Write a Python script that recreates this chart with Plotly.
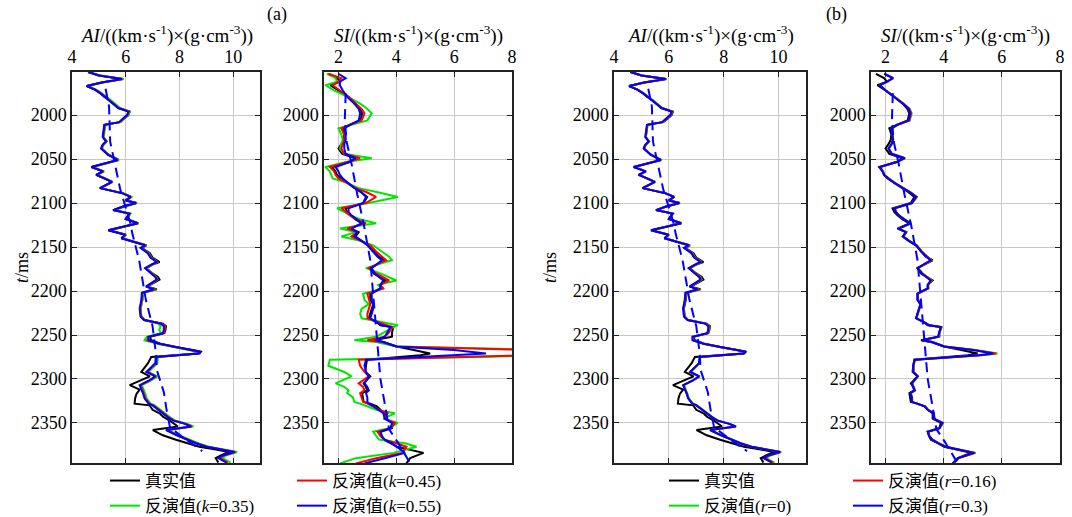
import plotly.graph_objects as go

# ---------------- data ----------------
t_ai = [1951,1955,1959,1963,1967,1971,1975,1979,1983,1988,
        1992,1996,2000,2004,2008,2011,2018,2025,2030,2034,
        2038,2045,2051,2055,2059,2064,2068,2072,2076,2083,
        2089,2093,2097,2100,2104,2108,2112,2118,2123,2127,
        2131,2136,2140,2146,2148,2151,2154,2157,2162,2167,
        2170,2174,2180,2184,2187,2191,2195,2198,2202,2210,
        2220,2229,2233,2237,2240,2244,2248,2252,2256,2260,
        2264,2267,2269,2271,2275,2282,2287,2292,2297,2302,
        2307,2312,2317,2322,2328,2330,2335,2339,2343,2347,
        2351,2354,2358,2364,2369,2373,2377,2380,2383,2387,
        2390,2395]

ai_true = [4.6,5.0,5.9,5.1,4.55,4.85,5.05,5.2,5.4,5.6,
           5.75,6.15,6.1,5.95,5.8,5.22,5.2,5.16,5.28,5.15,
           5.1,5.35,5.72,5.2,4.72,5.16,4.9,5.2,5.5,5.04,
           5.9,6.2,6.0,6.4,5.9,5.53,6.15,6.0,6.46,5.9,
           5.35,6.0,5.84,6.52,6.77,6.6,6.75,6.9,7.0,7.26,
           7.0,6.77,7.0,7.2,7.26,7.0,6.8,7.15,6.65,6.62,
           6.55,6.58,6.7,7.38,7.5,7.48,7.44,6.9,6.95,7.3,
           7.9,8.5,8.8,8.75,6.95,6.83,6.7,6.58,6.9,6.5,
           6.15,6.52,6.4,6.35,6.33,6.89,7.0,7.26,7.4,7.63,
           7.8,7.94,7.01,7.38,7.87,8.3,8.74,9.3,9.85,9.54,
           9.35,9.45]

ai_k035 = [4.65,5.05,5.92,5.15,4.6,4.9,5.1,5.25,5.44,5.64,
           5.78,6.15,6.1,5.95,5.8,5.25,5.22,5.18,5.3,5.17,
           5.12,5.37,5.75,5.25,4.77,5.2,4.95,5.25,5.52,5.08,
           5.93,6.22,6.05,6.42,5.95,5.58,6.18,6.05,6.48,5.95,
           5.4,6.02,5.88,6.55,6.75,6.6,6.74,6.86,6.96,7.18,
           7.0,6.76,7.0,7.14,7.18,7.0,6.8,7.1,6.65,6.62,
           6.56,6.58,6.72,7.2,7.3,7.25,7.3,6.78,6.7,7.2,
           7.85,8.4,8.65,8.62,7.2,7.18,7.03,6.85,7.18,6.93,
           6.6,6.68,6.73,6.78,6.93,7.08,7.28,7.48,7.63,7.83,
           8.3,8.52,7.58,7.98,8.38,8.7,9.1,9.7,10.15,9.72,
           9.6,9.9]

ai_k045 = [4.62,5.02,5.88,5.12,4.57,4.87,5.07,5.22,5.4,5.6,
           5.74,6.12,6.07,5.92,5.77,5.22,5.2,5.16,5.28,5.15,
           5.1,5.35,5.72,5.22,4.74,5.17,4.92,5.22,5.5,5.06,
           5.9,6.2,6.02,6.4,5.92,5.55,6.15,6.02,6.46,5.92,
           5.37,6.0,5.86,6.52,6.74,6.57,6.72,6.84,6.94,7.17,
           6.97,6.74,6.97,7.12,7.17,6.97,6.77,7.07,6.62,6.6,
           6.54,6.57,6.7,7.35,7.47,7.45,7.42,6.85,6.8,7.25,
           7.88,8.45,8.75,8.7,7.15,7.13,6.98,6.8,7.13,6.88,
           6.55,6.63,6.68,6.73,6.88,7.03,7.23,7.43,7.58,7.78,
           8.23,8.46,7.53,7.93,8.33,8.63,9.03,9.63,10.08,9.65,
           9.5,9.8]

ai_k055 = [4.6,5.0,5.85,5.1,4.55,4.85,5.05,5.2,5.38,5.58,
           5.72,6.1,6.05,5.9,5.75,5.2,5.18,5.14,5.26,5.13,
           5.08,5.33,5.7,5.2,4.72,5.15,4.9,5.2,5.48,5.04,
           5.88,6.18,6.0,6.38,5.9,5.53,6.13,6.0,6.44,5.9,
           5.35,5.98,5.84,6.5,6.72,6.55,6.7,6.82,6.92,7.15,
           6.95,6.72,6.95,7.1,7.15,6.95,6.75,7.05,6.6,6.58,
           6.52,6.55,6.68,7.3,7.42,7.42,7.38,6.85,6.85,7.25,
           7.9,8.5,8.78,8.7,7.12,7.1,6.95,6.77,7.1,6.85,
           6.52,6.6,6.65,6.7,6.85,7.0,7.2,7.4,7.55,7.75,
           8.2,8.43,7.5,7.9,8.3,8.6,9.0,9.6,10.05,9.6,
           9.45,9.75]

ai_r0 = [4.62,5.02,5.92,5.12,4.57,4.87,5.07,5.22,5.4,5.6,
         5.74,6.13,6.08,5.93,5.78,5.22,5.2,5.16,5.28,5.15,
         5.1,5.35,5.72,5.22,4.74,5.17,4.92,5.22,5.5,5.06,
         5.9,6.2,6.02,6.4,5.92,5.55,6.15,6.02,6.46,5.92,
         5.37,6.0,5.86,6.52,6.75,6.58,6.73,6.86,6.96,7.2,
         6.98,6.75,6.98,7.15,7.2,6.98,6.78,7.1,6.63,6.6,
         6.54,6.57,6.7,7.36,7.48,7.46,7.42,6.88,6.9,7.28,
         7.9,8.5,8.82,8.75,7.15,7.13,6.98,6.8,7.13,6.88,
         6.55,6.63,6.68,6.73,6.88,7.03,7.23,7.43,7.58,7.78,
         8.23,8.46,7.53,7.93,8.33,8.63,9.03,9.63,10.1,9.7,
         9.55,9.85]

ai_r016 = [4.61,5.01,5.9,5.11,4.56,4.86,5.06,5.21,5.39,5.59,
           5.73,6.12,6.07,5.92,5.77,5.21,5.19,5.15,5.27,5.14,
           5.09,5.34,5.71,5.21,4.73,5.16,4.91,5.21,5.49,5.05,
           5.89,6.19,6.01,6.39,5.91,5.54,6.14,6.01,6.45,5.91,
           5.36,5.99,5.85,6.51,6.74,6.57,6.72,6.84,6.94,7.18,
           6.97,6.74,6.97,7.13,7.18,6.97,6.77,7.08,6.62,6.59,
           6.53,6.56,6.69,7.34,7.46,7.45,7.41,6.87,6.88,7.27,
           7.9,8.5,8.8,8.73,7.13,7.11,6.96,6.78,7.11,6.86,
           6.53,6.61,6.66,6.71,6.86,7.01,7.21,7.41,7.56,7.76,
           8.21,8.44,7.51,7.91,8.31,8.61,9.01,9.61,10.07,9.65,
           9.5,9.8]

ai_r03 = [4.6,5.0,5.88,5.1,4.55,4.85,5.05,5.2,5.38,5.58,
          5.72,6.1,6.05,5.9,5.75,5.2,5.18,5.14,5.26,5.13,
          5.08,5.33,5.7,5.2,4.72,5.15,4.9,5.2,5.48,5.04,
          5.88,6.18,6.0,6.38,5.9,5.53,6.13,6.0,6.44,5.9,
          5.35,5.98,5.84,6.5,6.72,6.55,6.7,6.82,6.92,7.15,
          6.95,6.72,6.95,7.1,7.15,6.95,6.75,7.05,6.6,6.58,
          6.52,6.55,6.68,7.32,7.44,7.43,7.4,6.86,6.86,7.26,
          7.9,8.5,8.8,8.72,7.12,7.1,6.95,6.77,7.1,6.85,
          6.52,6.6,6.65,6.7,6.85,7.0,7.2,7.4,7.55,7.75,
          8.2,8.43,7.5,7.9,8.3,8.6,9.0,9.6,10.05,9.6,
          9.45,9.75]

t_ai_init = [1970,1990,2030,2050,2085,2120,2135,2165,2210,2240,2270,2290,2315,2335,2355,2369,2382]
ai_init = [5.25,5.38,5.42,5.55,5.8,6.15,6.25,6.5,6.75,7.0,7.12,7.16,7.42,7.52,7.65,8.25,8.85]

t_si = [1953,1958,1962,1966,1972,1979,1987,1993,1998,2006,
        2011,2015,2022,2028,2033,2038,2044,2049,2053,2059,
        2064,2068,2072,2077,2083,2088,2093,2100,2106,2110,
        2114,2119,2123,2129,2133,2138,2143,2148,2155,2161,
        2165,2170,2174,2180,2188,2193,2197,2203,2210,2215,
        2220,2226,2231,2235,2239,2241,2247,2252,2256,2258,
        2263,2267,2271,2273,2278,2285,2292,2297,2305,2309,
        2313,2316,2321,2326,2328,2331,2335,2339,2345,2350,
        2356,2360,2365,2369,2373,2377,2384,2390,2396]

si_true = [1.67,1.95,2.05,1.72,2.0,2.3,2.59,2.75,2.82,2.76,
           2.4,2.13,2.2,2.18,2.1,2.0,2.13,2.59,2.41,1.78,
           1.9,1.95,2.07,2.3,2.55,2.8,2.99,2.87,2.24,2.3,
           2.41,2.6,2.82,2.41,2.7,2.59,2.8,3.05,3.22,3.39,
           3.62,3.3,3.1,3.22,3.62,3.45,3.45,3.1,3.1,3.2,
           3.16,3.1,3.05,3.3,3.45,3.9,3.85,3.85,3.22,3.56,
           4.02,4.6,5.17,4.83,2.99,2.95,2.93,3.1,2.87,2.95,
           2.99,2.82,2.85,2.87,3.1,3.33,3.45,3.62,3.62,3.9,
           3.85,3.45,3.5,3.56,3.8,4.02,4.94,4.48,4.35]

si_k035 = [1.6,1.9,1.95,1.55,1.85,2.3,2.75,3.0,3.15,3.0,
           2.45,2.0,2.1,2.15,2.1,2.05,2.2,3.15,2.3,1.55,
           1.7,1.75,1.8,2.3,2.7,3.4,4.05,3.05,1.95,2.2,
           2.4,2.8,3.3,2.05,2.6,2.1,2.75,3.2,3.5,3.75,
           3.85,3.35,2.95,3.45,4.0,3.35,3.55,2.85,2.9,3.05,
           2.8,2.75,2.8,3.45,4.05,3.9,3.6,3.3,2.55,3.3,
           4.0,9.5,12.0,9.5,1.7,1.65,2.2,2.45,1.9,2.2,
           2.35,2.3,2.5,2.55,2.75,3.0,3.3,3.95,3.55,4.05,
           3.75,3.2,3.3,3.4,4.3,4.7,3.9,2.6,2.05]

si_k045 = [1.65,2.1,2.0,1.8,2.05,2.35,2.6,2.8,2.9,2.8,
           2.4,2.1,2.2,2.2,2.15,2.1,2.2,2.75,2.35,1.7,
           1.85,1.9,2.0,2.3,2.6,3.0,3.3,2.95,2.1,2.25,
           2.4,2.65,2.95,2.3,2.65,2.45,2.8,3.1,3.3,3.5,
           3.65,3.3,3.05,3.3,3.75,3.45,3.55,3.0,3.05,3.1,
           3.05,3.0,3.0,3.35,3.7,3.85,3.75,3.6,3.0,3.5,
           4.0,8.5,10.0,8.7,2.7,2.75,2.9,3.05,2.7,2.85,
           2.9,2.75,2.8,2.85,3.0,3.2,3.4,3.7,3.6,3.95,
           3.8,3.35,3.45,3.6,4.0,4.35,4.2,3.3,2.6]

si_k055 = [2.0,2.25,2.05,2.05,2.15,2.3,2.55,2.7,2.75,2.7,
           2.4,2.2,2.25,2.25,2.2,2.2,2.25,2.6,2.4,1.9,
           2.0,2.05,2.15,2.35,2.55,2.8,2.95,2.85,2.35,2.35,
           2.45,2.65,2.8,2.45,2.65,2.55,2.8,3.0,3.2,3.35,
           3.5,3.3,3.15,3.25,3.55,3.45,3.45,3.15,3.15,3.2,
           3.2,3.15,3.1,3.3,3.5,3.8,3.7,3.6,3.3,3.55,
           4.0,6.0,7.1,5.8,2.95,2.9,2.95,3.05,2.9,3.0,
           3.05,2.95,3.0,3.0,3.05,3.2,3.4,3.55,3.6,3.85,
           3.8,3.45,3.5,3.6,3.85,4.0,4.3,3.6,2.9]

si_r0 = [1.97,2.27,2.07,1.82,2.02,2.32,2.63,2.83,2.9,2.83,
         2.42,2.22,2.24,2.27,2.22,2.12,2.22,2.68,2.42,1.82,
         1.92,1.97,2.12,2.32,2.62,2.88,3.08,2.92,2.32,2.37,
         2.47,2.67,2.88,2.47,2.72,2.62,2.82,3.08,3.25,3.43,
         3.58,3.32,3.12,3.28,3.58,3.47,3.48,3.12,3.12,3.22,
         3.17,3.12,3.07,3.32,3.52,3.93,3.88,3.82,3.27,3.63,
         4.03,5.1,5.85,5.3,3.02,2.97,2.97,3.12,2.92,2.97,
         3.02,2.87,2.92,2.92,3.12,3.37,3.47,3.67,3.67,3.98,
         3.87,3.47,3.52,3.62,3.83,4.08,5.1,4.52,4.32]

si_r016 = [1.96,2.26,2.06,1.81,2.01,2.31,2.62,2.82,2.88,2.82,
           2.41,2.21,2.23,2.26,2.21,2.11,2.21,2.67,2.41,1.81,
           1.91,1.96,2.11,2.31,2.61,2.87,3.07,2.91,2.31,2.36,
           2.46,2.66,2.87,2.46,2.71,2.61,2.81,3.07,3.24,3.42,
           3.57,3.31,3.11,3.27,3.57,3.46,3.47,3.11,3.11,3.21,
           3.16,3.11,3.06,3.31,3.51,3.92,3.87,3.81,3.26,3.62,
           4.02,5.05,5.8,5.25,3.01,2.96,2.96,3.11,2.91,2.96,
           3.01,2.86,2.91,2.91,3.11,3.36,3.46,3.66,3.66,3.97,
           3.86,3.46,3.51,3.61,3.82,4.07,5.08,4.51,4.31]

si_r03 = [1.95,2.25,2.05,1.8,2.0,2.3,2.6,2.8,2.85,2.8,
          2.4,2.2,2.22,2.25,2.2,2.1,2.2,2.65,2.4,1.8,
          1.9,1.95,2.1,2.3,2.6,2.85,3.05,2.9,2.3,2.35,
          2.45,2.65,2.85,2.45,2.7,2.6,2.8,3.05,3.22,3.4,
          3.55,3.3,3.1,3.25,3.55,3.45,3.45,3.1,3.1,3.2,
          3.15,3.1,3.05,3.3,3.5,3.9,3.85,3.8,3.25,3.6,
          4.0,5.0,5.7,5.2,3.0,2.95,2.95,3.1,2.9,2.95,
          3.0,2.85,2.9,2.9,3.1,3.35,3.45,3.65,3.65,3.95,
          3.85,3.45,3.5,3.6,3.8,4.05,5.05,4.5,4.3]

t_si_init = [1975,2005,2030,2055,2090,2125,2165,2220,2275,2300,2328,2357,2372,2394]
si_init = [2.25,2.22,2.28,2.45,2.65,2.88,3.1,3.25,3.38,3.45,3.6,3.75,4.05,4.45]

ai_ticks = [4, 6, 8, 10]
si_ticks = [2, 4, 6, 8]
t_ticks = [2000, 2050, 2100, 2150, 2200, 2250, 2300, 2350]

names_a = ["真实值", "反演值(<i>k</i>=0.35)", "反演值(<i>k</i>=0.45)", "反演值(<i>k</i>=0.55)"]
names_b = ["真实值", "反演值(<i>r</i>=0)", "反演值(<i>r</i>=0.16)", "反演值(<i>r</i>=0.3)"]
ai_title = "<i>AI</i>/((km·s<sup>-1</sup>)×(g·cm<sup>-3</sup>))"
ai_title_b = "<i>AI</i>/((km·s<sup>-1</sup>)×(g·cm<sup>-3</sup>)"
si_title = "<i>SI</i>/((km·s<sup>-1</sup>)×(g·cm<sup>-3</sup>))"

# ---------------- style ----------------
FONT = "Liberation Serif, 'Noto Sans CJK SC', serif"
COLORS = ["#000000", "#00e600", "#ff0000", "#0000ff"]
LW = 2

fig = go.Figure()

panels = [
    dict(ax="", t=t_ai, series=[ai_true, ai_k035, ai_k045, ai_k055], names=names_a,
         legends=["legend", "legend", "legend2", "legend2"], show=True,
         ti=t_ai_init, init=ai_init),
    dict(ax="2", t=t_si, series=[si_true, si_k035, si_k045, si_k055], names=names_a,
         legends=["legend", "legend", "legend2", "legend2"], show=False,
         ti=t_si_init, init=si_init),
    dict(ax="3", t=t_ai, series=[ai_true, ai_r0, ai_r016, ai_r03], names=names_b,
         legends=["legend3", "legend3", "legend4", "legend4"], show=True,
         ti=t_ai_init, init=ai_init),
    dict(ax="4", t=t_si, series=[si_true, si_r0, si_r016, si_r03], names=names_b,
         legends=["legend3", "legend3", "legend4", "legend4"], show=False,
         ti=t_si_init, init=si_init),
]

for p in panels:
    for vals, name, col, lg in zip(p["series"], p["names"], COLORS, p["legends"]):
        fig.add_trace(go.Scatter(
            x=vals, y=p["t"], mode="lines", name=name,
            line=dict(color=col, width=LW), showlegend=p["show"], legend=lg,
            xaxis="x" + p["ax"], yaxis="y" + p["ax"], cliponaxis=True))
    fig.add_trace(go.Scatter(
        x=p["init"], y=p["ti"], mode="lines", showlegend=False,
        line=dict(color="#0000ff", width=LW, dash="10px,6px"),
        xaxis="x" + p["ax"], yaxis="y" + p["ax"]))

W, H = 1072, 517
top, bot = 72, 463
ydom = [1 - bot / H, 1 - top / H]
xdoms = [(72, 260), (324, 512), (614, 806), (871, 1060)]
xranges = [[4, 11], [1.5, 8], [4, 11], [1.5, 8]]
xtickv = [ai_ticks, si_ticks, ai_ticks, si_ticks]
xtitles = [ai_title, si_title, ai_title_b, si_title]

axis_common = dict(
    showgrid=True, gridcolor="#c8c8c8", gridwidth=1, zeroline=False,
    showline=True, linecolor="#222222", linewidth=1.5, mirror="ticks",
    ticks="inside", ticklen=5, tickcolor="#222222", tickwidth=1.2,
    tickfont=dict(family=FONT, size=18, color="black"), automargin=False,
)

layout = dict(
    width=W, height=H, margin=dict(l=0, r=0, t=0, b=0, autoexpand=False),
    paper_bgcolor="white", plot_bgcolor="white",
    font=dict(family=FONT, size=17, color="black"),
)
for i in range(4):
    sfx = "" if i == 0 else str(i + 1)
    layout["xaxis" + sfx] = dict(
        axis_common, domain=[xdoms[i][0] / W, xdoms[i][1] / W], range=xranges[i],
        side="top", tickvals=xtickv[i], anchor="y" + sfx)
    layout["yaxis" + sfx] = dict(
        axis_common, domain=ydom, range=[2395.5, 1951], tickvals=t_ticks,
        anchor="x" + sfx)

leg_common = dict(xanchor="left", yanchor="top", bgcolor="rgba(0,0,0,0)", borderwidth=0,
                  font=dict(family=FONT, size=17, color="black"), itemwidth=30,
                  tracegroupgap=0, orientation="v")
layout["legend"] = dict(leg_common, x=105 / W, y=1 - 463 / H)
layout["legend2"] = dict(leg_common, x=292 / W, y=1 - 463 / H)
layout["legend3"] = dict(leg_common, x=664 / W, y=1 - 463 / H)
layout["legend4"] = dict(leg_common, x=848 / W, y=1 - 463 / H)

fig.update_layout(**layout)

def label(text, xp, yp, angle=0, size=18):
    fig.add_annotation(text=text, x=xp / W, y=1 - yp / H, xref="paper", yref="paper",
                       xanchor="center", yanchor="middle", showarrow=False,
                       textangle=angle, font=dict(family=FONT, size=size, color="black"))

for i in range(4):
    label(xtitles[i], (xdoms[i][0] + xdoms[i][1]) / 2, 34, size=19)
label("(a)", 277, 14)
label("(b)", 836, 14)
label("<i>t</i>/ms", 22, 268, angle=-90)
label("<i>t</i>/ms", 550, 268, angle=-90)

fig.write_html("out.html", config={"displayModeBar": False},
               post_script="document.body.style.margin='0';document.body.style.padding='0';")
